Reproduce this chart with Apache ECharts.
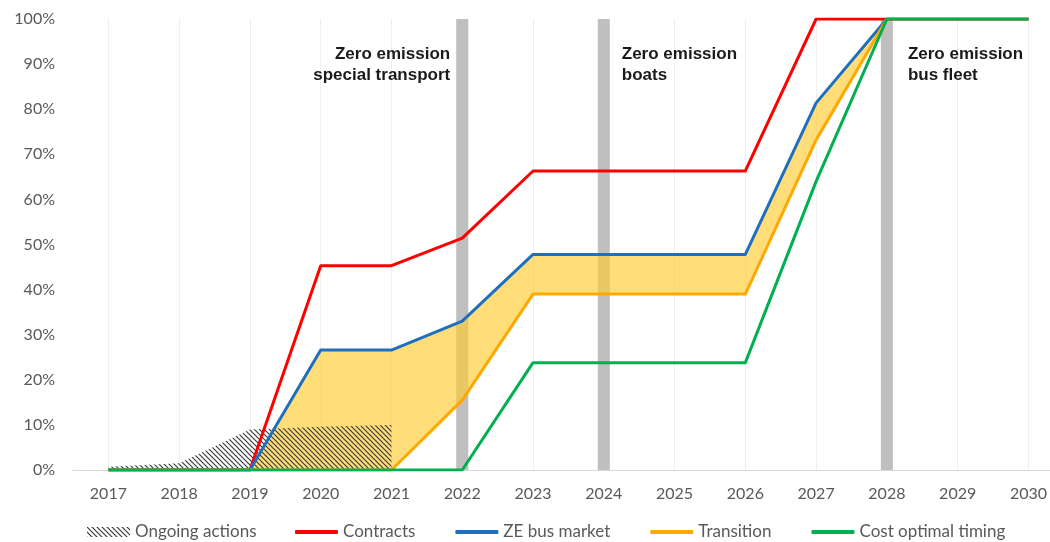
<!DOCTYPE html>
<html>
<head>
<meta charset="utf-8">
<title>Zero emission roadmap</title>
<script src="https://cdn.jsdelivr.net/npm/echarts@6/dist/echarts.min.js"></script>
<style>
  body, html { margin: 0; padding: 0; background: #fff; }
  #chart { width: 1050px; height: 542px; }
</style>
</head>
<body>
<div id="chart"></div>
<script>
var years = [2017, 2018, 2019, 2020, 2021, 2022, 2023, 2024, 2025, 2026, 2027, 2028, 2029, 2030];
var contracts   = [0, 0, 0, 45.3, 45.3, 51.4, 66.3, 66.3, 66.3, 66.3, 100, 100, 100, 100];
var zeBusMarket = [0, 0, 0, 26.6, 26.6, 33.0, 47.8, 47.8, 47.8, 47.8, 81.4, 100, 100, 100];
var transition  = [0, 0, 0, 0, 0, 15.5, 39.0, 39.0, 39.0, 39.0, 73.2, 100, 100, 100];
var costOptimal = [0, 0, 0, 0, 0, 0, 23.8, 23.8, 23.8, 23.8, 64, 100, 100, 100];

var ongoingYears = [2017, 2018, 2019, 2020, 2021];
var ongoing      = [0.7, 1.5, 9, 9.6, 10];

var milestoneYears  = [2022, 2024, 2028];
var milestoneLabels = ['Zero emission\nspecial transport', 'Zero emission\nboats', 'Zero emission\nbus fleet'];

function pairs(xs, ys) {
    return xs.map(function (x, i) { return [x, ys[i]]; });
}

// diagonal hatch for "Ongoing actions"
var hatch = document.createElement('canvas');
hatch.width = 5; hatch.height = 5;
var hc = hatch.getContext('2d');
hc.strokeStyle = '#3c3c3c';
hc.lineWidth = 1.2;
[-5, 0, 5].forEach(function (c) {
    hc.beginPath();
    hc.moveTo(c - 1, -1);
    hc.lineTo(c + 6, 6);
    hc.stroke();
});
var hatchFill = { image: hatch, repeat: 'repeat' };

var font = 'Lato';

var half = 0.085;
var labelOffsets = [[-6, 25], [24, 25], [27, 25]];
var markers = milestoneYears.map(function (y, i) {
    var left = i === 0;
    return [{
        xAxis: y - half, yAxis: 0,
        label: {
            show: true,
            formatter: milestoneLabels[i],
            position: labelOffsets[i],
            align: left ? 'right' : 'left',
            verticalAlign: 'top',
            fontFamily: 'Liberation Sans',
            fontWeight: 'bold',
            fontSize: 17,
            lineHeight: 21,
            color: '#1a1a1a'
        }
    }, { xAxis: y + half, yAxis: 100 }];
});

function lineSeries(name, data, color) {
    return {
        name: name,
        type: 'line',
        z: 4,
        data: pairs(years, data),
        symbol: 'none',
        lineStyle: { color: color, width: 3, join: 'round' },
        itemStyle: { color: color }
    };
}

var chart = echarts.init(document.getElementById('chart'));
chart.setOption({
    animation: false,
    backgroundColor: '#fff',
    grid: { left: 73, right: 0, top: 19, bottom: 72 },
    xAxis: {
        type: 'value',
        min: 2016.5,
        max: 2030.3,
        interval: 0.5,
        axisLine: { show: true, lineStyle: { color: '#d9d9d9', width: 1 } },
        axisTick: { show: false },
        axisLabel: {
            margin: 16,
            color: '#595959',
            fontFamily: font,
            fontSize: 16,
            showMaxLabel: false,
            formatter: function (v) { return Number.isInteger(v) ? String(v) : ''; }
        },
        splitLine: { show: true, lineStyle: { color: ['rgba(0,0,0,0)', '#efefef'], width: 1 } }
    },
    yAxis: {
        type: 'value',
        min: 0,
        max: 100,
        interval: 10,
        axisLine: { show: false },
        axisTick: { show: false },
        splitLine: { show: false },
        axisLabel: {
            margin: 18,
            color: '#595959',
            fontFamily: font,
            fontSize: 16,
            formatter: '{value}%'
        }
    },
    legend: [{
        left: 82,
        top: 517,
        itemWidth: 43,
        itemHeight: 10,
        textStyle: { fontFamily: font, fontSize: 17, color: '#595959', lineHeight: 20 },
        data: [{ name: 'Ongoing actions', icon: 'rect', itemStyle: { color: hatchFill } }]
    }, {
        left: 290,
        top: 517,
        itemWidth: 43,
        itemHeight: 4,
        itemGap: 40,
        textStyle: { fontFamily: font, fontSize: 17, color: '#595959', lineHeight: 20 },
        data: ['Contracts', 'ZE bus market', 'Transition', 'Cost optimal timing'].map(function (n) {
            return { name: n, icon: 'roundRect' };
        })
    }],
    series: [{
        name: 'milestones',
        type: 'line',
        z: 1,
        data: pairs(years, costOptimal),
        symbol: 'none',
        silent: true,
        lineStyle: { opacity: 0 },
        markArea: {
            silent: true,
            z: 1,
            itemStyle: { color: '#bfbfbf' },
            data: markers
        }
    }, {
        name: 'band',
        type: 'custom',
        z: 2,
        silent: true,
        data: [[years[0], 0]],
        encode: { x: 0, y: 1 },
        renderItem: function (params, api) {
            var pts = [];
            for (var i = 0; i < years.length; i++) pts.push(api.coord([years[i], zeBusMarket[i]]));
            for (var j = years.length - 1; j >= 0; j--) pts.push(api.coord([years[j], transition[j]]));
            return {
                type: 'polygon',
                shape: { points: pts },
                style: { fill: 'rgba(255,204,51,0.65)' }
            };
        }
    }, {
        name: 'Ongoing actions',
        type: 'line',
        z: 3,
        data: pairs(ongoingYears, ongoing),
        symbol: 'none',
        lineStyle: { width: 0, opacity: 0 },
        itemStyle: { color: '#3c3c3c' },
        areaStyle: { color: hatchFill, opacity: 1 }
    },
        lineSeries('Contracts', contracts, '#ff0000'),
        lineSeries('ZE bus market', zeBusMarket, '#1f6fbf'),
        lineSeries('Transition', transition, '#ffa800'),
        lineSeries('Cost optimal timing', costOptimal, '#00b050')
    ]
});
</script>
</body>
</html>
